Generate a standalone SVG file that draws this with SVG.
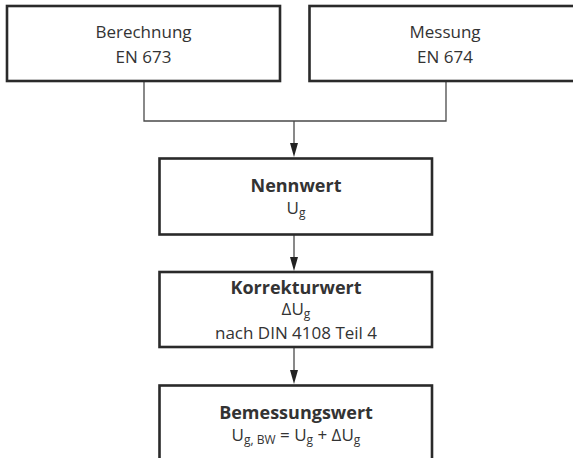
<svg xmlns="http://www.w3.org/2000/svg" width="573" height="458" viewBox="0 0 573 458">
<style>
.box{fill:#fff;stroke:#2a2a2a;stroke-width:2.6}
.t{font-family:"Open Sans","Liberation Sans",sans-serif;font-size:17px;fill:#333;text-anchor:middle}
.b{font-weight:bold;font-size:18px}
.sub{font-size:12px}
.con{fill:none;stroke:#4a4a4a;stroke-width:1.3}
.ah{fill:#222}
</style>
<rect width="573" height="458" fill="#fff"/>
<g id="connectors">
<polyline class="con" points="144,81 144,121 446,121 446,81"/>
<line class="con" x1="294" y1="121" x2="294" y2="150"/>
<path class="ah" d="M290,143 L298,143 L294,157 Z"/>
<line class="con" x1="294" y1="234" x2="294" y2="264"/>
<path class="ah" d="M290,257 L298,257 L294,271 Z"/>
<line class="con" x1="294" y1="347" x2="294" y2="377"/>
<path class="ah" d="M290,370 L298,370 L294,384 Z"/>
</g>
<g id="berechnung">
<rect class="box" x="7" y="6" width="273" height="75"/>
<text class="t" x="143.5" y="38">Berechnung</text>
<text class="t" x="143.5" y="63">EN 673</text>
</g>
<g id="messung">
<rect class="box" x="309.5" y="6" width="272" height="75"/>
<text class="t" x="445" y="38">Messung</text>
<text class="t" x="445" y="63">EN 674</text>
</g>
<g id="nennwert">
<rect class="box" x="159.5" y="158.5" width="272.5" height="76"/>
<text class="t b" x="296" y="192">Nennwert</text>
<text class="t" x="296" y="214">U<tspan class="sub" dy="3">g</tspan></text>
</g>
<g id="korrekturwert">
<rect class="box" x="159.5" y="272" width="272.5" height="75"/>
<text class="t b" x="296" y="294">Korrekturwert</text>
<text class="t" x="296" y="315">ΔU<tspan class="sub" dy="2.5">g</tspan></text>
<text class="t" x="296" y="339">nach DIN 4108 Teil 4</text>
</g>
<g id="bemessungswert">
<rect class="box" x="159.5" y="385.5" width="272.5" height="90"/>
<text class="t b" x="296" y="419">Bemessungswert</text>
<text class="t" x="296" y="441">U<tspan class="sub" dy="3">g, BW</tspan><tspan dy="-3"> = U</tspan><tspan class="sub" dy="3">g</tspan><tspan dy="-3"> + ΔU</tspan><tspan class="sub" dy="3">g</tspan></text>
</g>
</svg>
